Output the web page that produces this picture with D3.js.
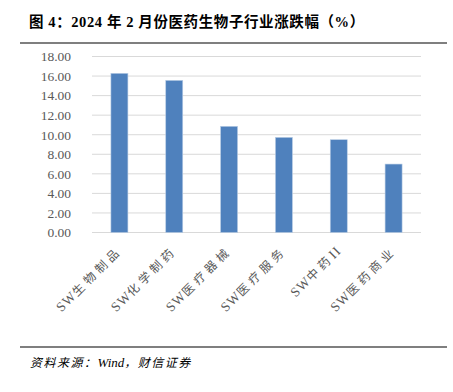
<!DOCTYPE html>
<html>
<head>
<meta charset="utf-8">
<script src="https://cdn.jsdelivr.net/npm/d3@7"></script>
<style>
  body { margin: 0; background: #fff; }
  text { font-family: "Liberation Serif", "Times New Roman", "Noto Sans CJK SC", serif; }
</style>
</head>
<body>
<div id="chart"></div>
<script>
// data
const categories = ["SW生物制品", "SW化学制药", "SW医疗器械", "SW医疗服务", "SW中药II", "SW医药商业"];
const values = [16.28, 15.56, 10.86, 9.73, 9.49, 7.00];
const yTicks = [0, 2, 4, 6, 8, 10, 12, 14, 16, 18];

const width = 453, height = 392;
const margin = { top: 56.5, left: 92, right: 32, bottom: 159.5 };

// split a string into latin / cjk runs so they can be spaced differently
function runs(s) {
    return s.match(/[\x00-\x7f]+|[^\x00-\x7f]+/g);
}

const svg = d3.select("#chart").append("svg")
    .attr("width", width)
    .attr("height", height);

// title + rule
svg.append("text")
    .attr("x", 29)
    .attr("y", 27)
    .style("font-size", "14.5px")
    .style("font-weight", "bold")
    .style("letter-spacing", "0.6px")
    .attr("fill", "#000")
    .text("图 4：2024 年 2 月份医药生物子行业涨跌幅（%）");

svg.append("line")
    .attr("x1", 20).attr("x2", 447)
    .attr("y1", 43).attr("y2", 43)
    .attr("stroke", "#000").attr("stroke-width", 1.2);

const x = d3.scaleBand()
    .domain(categories)
    .range([margin.left, width - margin.right])
    .paddingInner(0.69)
    .paddingOuter(0.345);

const y = d3.scaleLinear()
    .domain([0, 18])
    .range([height - margin.bottom, margin.top]);

// gridlines
svg.append("g")
    .selectAll("line")
    .data(yTicks)
    .join("line")
    .attr("x1", margin.left)
    .attr("x2", width - margin.right)
    .attr("y1", d => y(d))
    .attr("y2", d => y(d))
    .attr("stroke", "#d9d9d9")
    .attr("stroke-width", 1);

// y axis labels
const yAxis = svg.append("g")
    .attr("transform", `translate(${margin.left - 18}, 0)`)
    .call(d3.axisLeft(y).tickValues(yTicks).tickFormat(d3.format(".2f")).tickSize(0));
yAxis.select(".domain").remove();
yAxis.selectAll("text")
    .style("font-size", "13.5px")
    .style("font-family", "'Liberation Serif', 'Times New Roman', serif")
    .attr("fill", "#595959");

// bars
svg.append("g")
    .selectAll("rect")
    .data(values)
    .join("rect")
    .attr("x", (d, i) => x(categories[i]))
    .attr("y", d => y(d))
    .attr("width", x.bandwidth())
    .attr("height", d => y(0) - y(d))
    .attr("fill", "#4f81bd")
    .attr("stroke", "#b9cde5")
    .attr("stroke-width", 0.6);

// x labels, rotated; cjk characters spaced out like the original
const xAxis = svg.append("g")
    .attr("transform", `translate(0, ${y(0)})`)
    .call(d3.axisBottom(x).tickSize(0));
xAxis.select(".domain").remove();
xAxis.selectAll("text")
    .attr("fill", "#595959")
    .attr("text-anchor", "end")
    .attr("dy", null)
    .attr("transform", "translate(1, 17) rotate(-45)")
    .text(null)
    .each(function (d) {
        const t = d3.select(this);
        runs(d).forEach(r => {
            const cjk = /[^\x00-\x7f]/.test(r);
            t.append("tspan")
                .style("font-size", cjk ? "12px" : "13.5px")
                .style("letter-spacing", cjk ? "4px" : "1px")
                .text(r);
        });
    });

// footer rule + source
svg.append("line")
    .attr("x1", 20).attr("x2", 447)
    .attr("y1", 347).attr("y2", 347)
    .attr("stroke", "#000").attr("stroke-width", 1.2);

const src = svg.append("text")
    .attr("x", 30)
    .attr("y", 367)
    .style("font-size", "12px")
    .style("font-style", "italic")
    .attr("fill", "#000");
runs("资料来源：Wind，财信证券").forEach(r => {
    const cjk = /[^\x00-\x7f]/.test(r);
    src.append("tspan")
        .style("letter-spacing", cjk ? "1.5px" : "0px")
        .style("font-size", cjk ? "12px" : "13px")
        .text(r);
});
</script>
</body>
</html>
